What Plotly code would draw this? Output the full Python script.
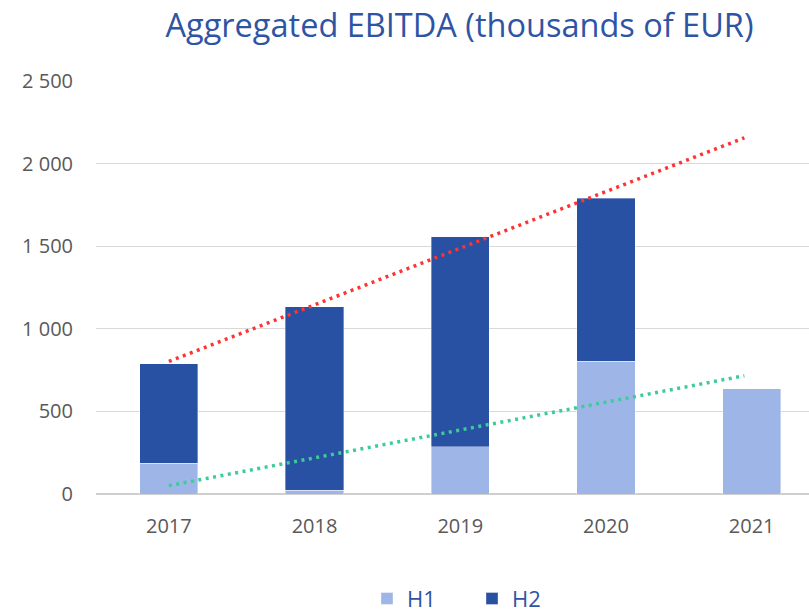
import numpy as np
import plotly.graph_objects as go

years = ["2017", "2018", "2019", "2020", "2021"]
h1 = [185, 24, 287, 804, 637]
h2 = [602, 1110, 1269, 985, None]
y_ticks = [0, 500, 1000, 1500, 2000, 2500]
trend_end = 3.95  # trendline forecast extent (category units)

title_color = "#2E54A4"
dark = "#2851A3"
light = "#9DB5E7"
tick_color = "#595959"

xpos = np.arange(len(years))
totals = [a + b for a, b in zip(h1, h2) if b is not None]

# Linear trend of totals (years with both halves) and of H1
p_tot = np.polyfit(xpos[:len(totals)], totals, 1)
p_h1 = np.polyfit(xpos, h1, 1)
tx = np.array([0.0, trend_end])

fig = go.Figure()
fig.add_bar(x=xpos, y=h1, name="H1", marker=dict(color=light, line=dict(width=0.8, color="rgba(255,255,255,0.5)")), width=0.4)
fig.add_bar(x=xpos, y=h2, name="H2", marker=dict(color=dark, line=dict(width=0.8, color="rgba(255,255,255,0.45)")), width=0.4)
fig.add_scatter(x=tx, y=np.polyval(p_tot, tx), mode="lines", showlegend=False,
                line=dict(color="#FF3333", width=3.5, dash="3px,4.5px"), hoverinfo="skip")
fig.add_scatter(x=tx, y=np.polyval(p_h1, tx), mode="lines", showlegend=False,
                line=dict(color="#3DCC99", width=3.5, dash="3px,4.5px"), hoverinfo="skip")

fig.update_layout(
    width=809, height=612,
    barmode="stack",
    separators=". ",
    paper_bgcolor="white", plot_bgcolor="white",
    margin=dict(l=96, r=0, t=81, b=118, autoexpand=False),
    font=dict(family="Open Sans", color=tick_color),
    title=dict(text="Aggregated EBITDA (thousands of EUR)", font=dict(size=32.5, color=title_color, family="Open Sans"),
               x=459.5 / 809, xref="container", xanchor="center", y=1 - 26 / 612, yref="container", yanchor="middle"),
    legend=dict(orientation="h", x=(472 - 96) / 713, xanchor="center", y=-(599 - 494.2) / 413.5, yanchor="middle",
                font=dict(size=22, color=title_color), traceorder="normal",
                entrywidth=60, entrywidthmode="pixels"),
    xaxis=dict(range=[-0.5, (809 - 96) / 145.7 - 0.5], tickvals=list(xpos), ticktext=years,
               showgrid=False, zeroline=False, showline=False, automargin=False,
               tickfont=dict(size=20, color=tick_color), ticklabelstandoff=18, fixedrange=True),
    yaxis=dict(range=[0, 2500], tickvals=y_ticks, tickformat=",", showgrid=True, gridcolor="#D9D9D9", gridwidth=1,
               zeroline=True, zerolinecolor="#CFCFCF", zerolinewidth=1.5, automargin=False,
               tickfont=dict(size=20, color=tick_color), ticklabelstandoff=22, fixedrange=True),
)

fig.write_html("out.html", config={"displayModeBar": False},
               post_script="document.body.style.margin='0';document.body.style.overflow='hidden';")
